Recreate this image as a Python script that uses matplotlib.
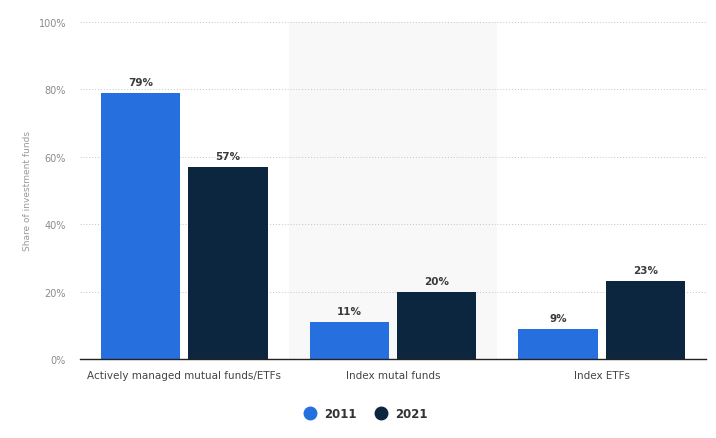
import numpy as np
import matplotlib.pyplot as plt
from matplotlib.lines import Line2D

# Data
categories = ['Actively managed mutual funds/ETFs', 'Index mutal funds', 'Index ETFs']
years = ['2011', '2021']
share_2011 = [79, 11, 9]
share_2021 = [57, 20, 23]

BLUE = '#256fde'
NAVY = '#0c2640'
BAR_W = 0.38
OFFSET = 0.209

fig = plt.figure(figsize=(7.16, 4.39), dpi=100)
ax = fig.add_axes([0.1117, 0.18, 0.8743, 0.7676])

x = np.arange(len(categories))

# shaded middle group
ax.axvspan(0.5, 1.5, color='#f8f8f8', zorder=0, lw=0)

for vals, off, col in [(share_2011, -OFFSET, BLUE), (share_2021, OFFSET, NAVY)]:
  bars = ax.bar(x + off, vals, width=BAR_W, color=col, zorder=3)
  for b, v in zip(bars, vals):
    ax.text(b.get_x() + b.get_width() / 2, v + 1.8, '%d%%' % v,
            ha='center', va='bottom', fontsize=7.5, fontweight='bold',
            color='#3a3a3a', zorder=4)

ax.set_xlim(-0.5, 2.5)
ax.set_ylim(0, 100)
ax.set_yticks(range(0, 101, 20))
ax.set_yticklabels(['%d%%' % v for v in range(0, 101, 20)])
ax.set_xticks(x)
ax.set_xticklabels(categories)

ax.grid(axis='y', linestyle=(0, (1, 2)), color='#c4c4c4', linewidth=0.7, zorder=1)
ax.grid(axis='x', visible=False)
for s in ['top', 'right', 'left']:
  ax.spines[s].set_visible(False)
ax.spines['bottom'].set_color('#222222')
ax.spines['bottom'].set_linewidth(1.0)
ax.spines['bottom'].set_zorder(5)

ax.tick_params(axis='y', length=0, labelsize=7, labelcolor='#8a8a8a', pad=10)
ax.tick_params(axis='x', length=0, labelsize=7.5, labelcolor='#444444', pad=8)

ax.set_ylabel('Share of investment funds', fontsize=6.5, color='#999999', labelpad=5)

handles = [Line2D([0], [0], marker='o', color='none', markerfacecolor=c,
                  markeredgecolor=c, markersize=9) for c in (BLUE, NAVY)]
leg = fig.legend(handles, years, loc='center', bbox_to_anchor=(0.507, 0.055),
                 ncol=2, frameon=False, fontsize=8.5, handletextpad=0.2,
                 columnspacing=1.0)
for t in leg.get_texts():
  t.set_fontweight('bold')
  t.set_color('#333333')

fig.savefig('out.png', dpi=100)
